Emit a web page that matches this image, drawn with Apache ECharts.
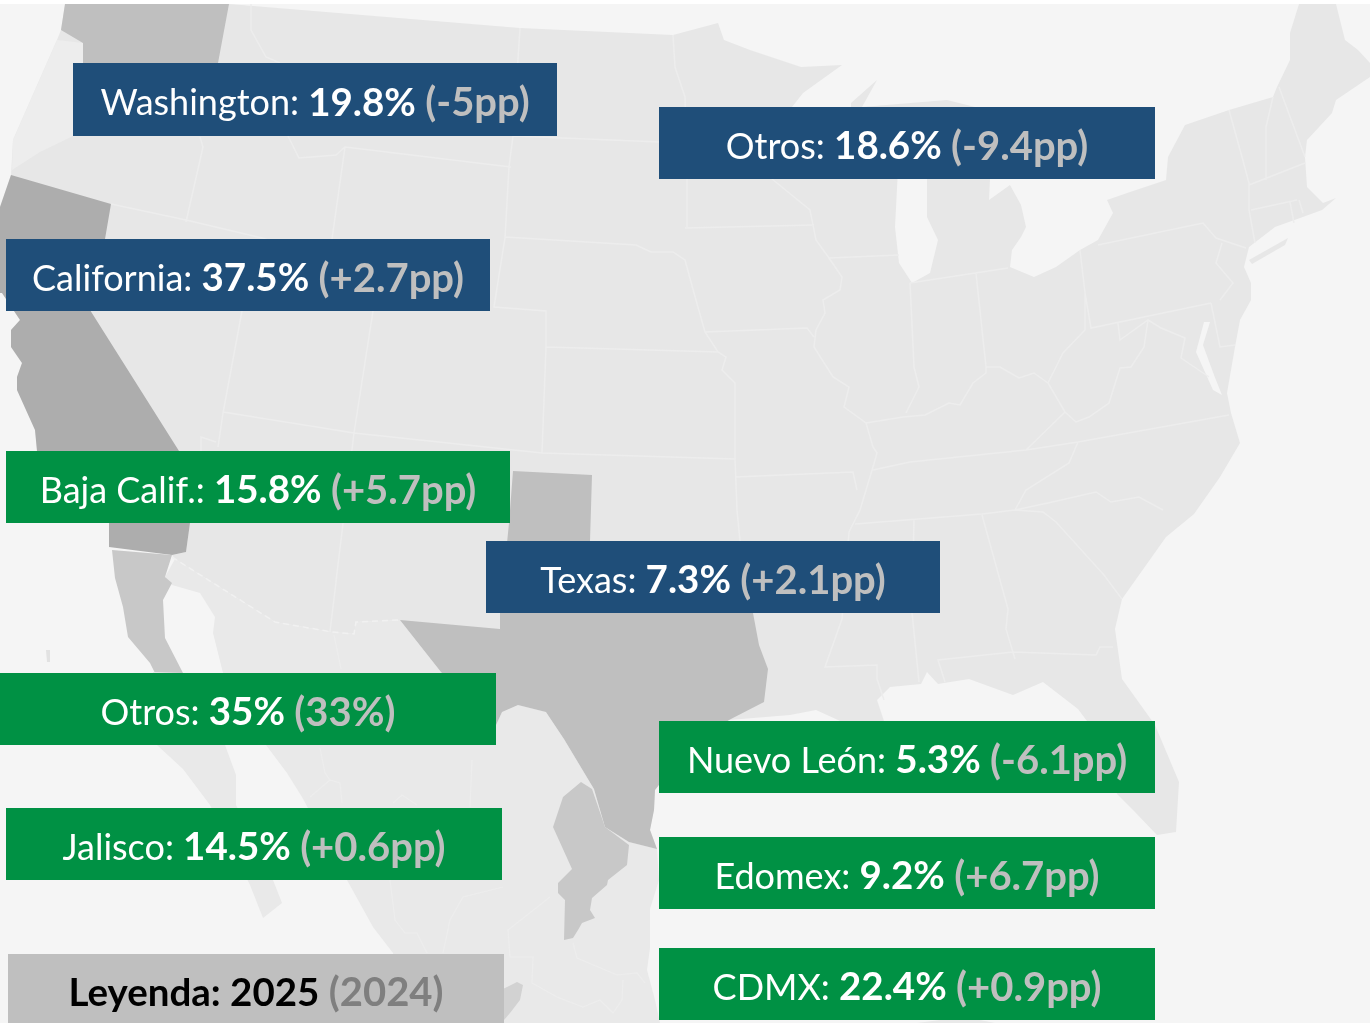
<!DOCTYPE html>
<html>
<head>
<meta charset="utf-8">
<title>Participación por estado</title>
<style>
html, body { margin: 0; padding: 0; background: #fff; }
#main { width: 1370px; height: 1023px; }
</style>
<script src="https://cdn.jsdelivr.net/npm/echarts@6/dist/echarts.min.js"></script>
</head>
<body>
<div id="main"></div>
<script>
// datos de las etiquetas
var names = ['Washington', 'Otros', 'California', 'Baja Calif.', 'Texas', 'Otros', 'Nuevo León', 'Jalisco', 'Edomex', 'CDMX']
var shares = ['19.8%', '18.6%', '37.5%', '15.8%', '7.3%', '35%', '5.3%', '14.5%', '9.2%', '22.4%']
var changes = ['(-5pp)', '(-9.4pp)', '(+2.7pp)', '(+5.7pp)', '(+2.1pp)', '(33%)', '(-6.1pp)', '(+0.6pp)', '(+6.7pp)', '(+0.9pp)']
var countries = ['us', 'us', 'us', 'mx', 'us', 'mx', 'mx', 'mx', 'mx', 'mx']
var legendText = ['Leyenda:', '2025', '(2024)']

// cajas de texto: x0, y0, x1, y1 en pixeles de la imagen
var boxes = [
    [73, 63, 557, 136], [659, 107, 1155, 179], [6, 239, 490, 311], [6, 451, 510, 523], [486, 541, 940, 613],
    [0, 673, 496, 745], [659, 721, 1155, 793], [6, 808, 502, 880], [659, 837, 1155, 909], [659, 948, 1155, 1020]
]
var legendBox = [8, 954, 504, 1023]
var boxColors = { us: '#1f4e79', mx: '#009144' }

// contornos del mapa
var usaLand = [[65,4],[229,4],[520,28],[673,35],[718,23],[724,40],[750,50],[801,67],[842,65],[803,93],[792,107],[792,120],[851,120],[851,103],[877,80],[862,107],[947,100],[975,107],[980,135],[960,150],[990,179],[989,200],[1010,185],[1021,205],[1026,227],[1021,237],[1012,250],[1010,267],[1034,277],[1056,267],[1080,250],[1098,240],[1113,213],[1107,200],[1130,192],[1166,180],[1168,157],[1185,125],[1229,110],[1273,97],[1277,87],[1290,60],[1290,33],[1299,4],[1336,4],[1345,40],[1358,50],[1370,63],[1370,77],[1336,100],[1332,113],[1307,140],[1305,157],[1307,187],[1323,203],[1336,198],[1322,210],[1300,218],[1275,227],[1249,247],[1244,267],[1251,283],[1251,300],[1240,320],[1235,347],[1227,393],[1231,413],[1240,443],[1220,477],[1194,514],[1166,537],[1122,599],[1115,629],[1122,679],[1155,725],[1179,782],[1176,832],[1157,835],[1135,812],[1117,794],[1100,750],[1087,721],[1078,709],[1043,682],[1013,695],[969,679],[938,684],[927,672],[921,684],[890,687],[877,700],[884,721],[860,730],[838,720],[816,710],[790,715],[729,720],[690,745],[655,790],[654,810],[650,830],[657,849],[629,842],[605,827],[594,789],[564,739],[546,712],[518,705],[502,712],[496,725],[441,672],[400,620],[356,622],[354,634],[332,632],[275,622],[175,559],[172,555],[186,552],[190,523],[179,451],[109,547],[109,523],[37,451],[35,430],[17,390],[17,377],[22,363],[11,347],[11,330],[20,320],[2,293],[0,293],[0,207],[11,175],[13,140],[57,40],[61,30]]
var longIsland = [[1249,260],[1288,238],[1285,245],[1252,264]]
var lakeMichigan = [[899,150],[927,150],[927,217],[938,240],[930,273],[912,283],[899,263],[895,227]]
var chesapeake = [[1204,322],[1210,322],[1203,345],[1214,375],[1222,395],[1213,390],[1196,352]]
var washington = [[65,4],[229,4],[218,63],[205,136],[73,136],[73,63],[83,63],[83,43],[61,30]]
var oregonCoast = [[57,40],[83,43],[83,63],[73,63],[73,136],[40,152],[12,170],[13,140]]
var california = [[11,175],[111,204],[105,239],[90,310],[179,451],[190,523],[186,552],[172,555],[109,547],[109,523],[37,451],[35,430],[17,390],[17,377],[22,363],[11,347],[11,330],[20,320],[2,293],[0,293],[0,207]]
var texas = [[513,471],[592,475],[590,541],[600,580],[753,613],[759,645],[768,669],[764,702],[729,720],[690,745],[655,790],[654,810],[650,830],[657,849],[629,842],[605,827],[594,789],[564,739],[546,712],[518,705],[502,712],[496,725],[441,672],[400,620],[500,629],[500,613],[509,523]]
var mexico = [[175,559],[275,622],[332,632],[354,634],[356,622],[400,620],[441,672],[496,725],[502,712],[518,705],[546,712],[564,739],[594,789],[605,827],[629,842],[657,849],[659,880],[650,909],[650,948],[647,970],[655,1000],[660,1023],[400,1023],[393,953],[373,927],[347,880],[302,797],[287,773],[266,745],[223,673],[213,633],[215,617],[200,593],[172,585],[165,577]]
var bajaNorte = [[112,550],[172,555],[165,577],[172,583],[163,600],[165,638],[183,673],[155,673],[150,663],[128,637],[123,607],[115,578]]
var bajaSur = [[153,672],[183,673],[225,745],[236,775],[236,805],[273,880],[282,903],[263,918],[250,885],[210,805],[183,769],[157,745]]
var cedros = [[46,650],[50,650],[50,662],[47,662]]
var nuevoLeon = [[581,782],[592,789],[605,827],[629,845],[627,865],[608,880],[607,885],[592,898],[590,910],[595,918],[582,923],[578,930],[573,938],[564,940],[565,900],[558,893],[558,883],[572,869],[553,827],[563,797]]
var jalisco = [[523,985],[517,982],[507,987],[480,1000],[480,1023],[504,1020],[510,1013],[520,1000]]
var yucatan = [[917,1023],[940,1020],[980,1020],[995,1023]]
var statePaths = [
    [[200,137],[203,147],[186,222]],
    [[111,204],[186,220],[262,238],[300,250]],
    [[251,4],[251,30],[266,57],[280,63]],
    [[288,136],[299,158],[336,155],[345,147],[511,167]],
    [[345,147],[332,239]],
    [[520,28],[513,136],[509,167],[505,238],[494,307],[546,311],[546,347],[542,453]],
    [[513,136],[660,142]],
    [[505,237],[636,245],[651,252],[673,252],[685,260],[694,293],[705,332],[718,352],[726,357],[722,370],[735,383],[735,458],[737,510],[740,541]],
    [[546,347],[718,352]],
    [[373,311],[354,433],[343,523],[330,632]],
    [[242,311],[223,413],[218,447]],
    [[201,451],[201,437],[216,442]],
    [[223,412],[354,433],[542,453],[735,459]],
    [[673,35],[675,67],[685,97],[687,179],[687,227]],
    [[685,228],[814,225]],
    [[772,179],[810,210],[816,240],[829,258],[842,277],[840,290],[823,300],[825,313],[816,330],[814,347],[833,377],[849,387],[844,407],[866,423],[873,447],[877,453],[873,467],[860,510],[849,532],[842,619],[825,667],[877,665],[877,679],[884,700]],
    [[829,258],[899,255]],
    [[705,332],[807,328],[814,337]],
    [[735,477],[853,472],[857,490]],
    [[910,283],[914,367],[919,387],[906,413]],
    [[976,273],[986,367]],
    [[910,283],[1008,268]],
    [[866,423],[903,417],[925,415],[949,403],[960,405],[973,383],[986,373],[986,367],[1000,367],[1019,378],[1034,373],[1048,383],[1063,353],[1085,330],[1085,293],[1080,250]],
    [[1085,293],[1091,328],[1211,303]],
    [[1098,245],[1203,223],[1216,238],[1246,248]],
    [[1222,243],[1216,263],[1233,283],[1220,300]],
    [[1118,323],[1120,340],[1148,320],[1161,328],[1185,338],[1181,358],[1209,377]],
    [[1148,320],[1144,347],[1131,367],[1120,368],[1109,403],[1089,417],[1076,422],[1065,412],[1048,383]],
    [[1065,412],[1026,450]],
    [[873,470],[910,462],[1026,450],[1078,442],[1229,415]],
    [[1078,442],[1069,463],[1026,490],[1015,510],[1043,512],[1056,522],[1104,575],[1122,599]],
    [[1229,110],[1242,157],[1249,183],[1249,210],[1255,243]],
    [[1273,97],[1266,127],[1266,180]],
    [[1279,87],[1305,157]],
    [[1249,185],[1305,163]],
    [[1251,210],[1297,200]],
    [[1290,202],[1294,223]],
    [[1299,200],[1303,213]],
    [[1211,303],[1220,347],[1235,345]],
    [[855,524],[982,514],[1015,510],[1048,503],[1096,492],[1111,502],[1139,497],[1163,510]],
    [[914,519],[912,612],[919,682]],
    [[982,515],[1008,609],[1006,629],[1015,659]],
    [[945,682],[938,660],[1013,652],[1096,655],[1100,647],[1113,647]]
]
var usMxBorder = [[[172,557],[275,622],[332,632],[354,634],[356,622],[400,620]]]
var mexicoPaths = [
    [[334,635],[341,669]],
    [[320,748],[325,773],[330,780],[340,783],[342,803]],
    [[330,780],[310,797]],
    [[393,803],[402,795],[417,805]],
    [[472,760],[470,807]],
    [[390,880],[395,920],[405,933],[417,933],[427,953]],
    [[503,887],[463,897],[450,920],[443,953]],
    [[550,897],[508,930],[510,957],[533,957],[532,983],[557,997],[583,1007],[600,1000],[613,1013]],
    [[573,943],[577,958],[617,975],[637,973],[645,983]],
    [[623,980],[622,1000],[613,1013]]
]

function polygon(name, ring) {
    return { type: 'Feature', properties: { name: name }, geometry: { type: 'Polygon', coordinates: [ring] } }
}
function lines(name, paths) {
    return { type: 'Feature', properties: { name: name }, geometry: { type: 'MultiLineString', coordinates: paths } }
}

var SEA = '#f5f5f5'
var LAND = '#e7e7e7'
var shapes = [
    ['Fondo', [[0,0],[1370,0],[1370,1023],[0,1023]], '#ffffff'],
    ['Mar', [[0,4],[1370,4],[1370,1023],[0,1023]], SEA],
    ['Mexico', mexico, '#e9e9e9'],
    ['EEUU', usaLand, LAND],
    ['Long Island', longIsland, LAND],
    ['Lago Michigan', lakeMichigan, SEA],
    ['Chesapeake', chesapeake, SEA],
    ['Costa Oregon', oregonCoast, '#ededed'],
    ['Washington', washington, '#bfbfbf'],
    ['California', california, '#adadad'],
    ['Texas', texas, '#bfbfbf'],
    ['Baja California', bajaNorte, '#c8c8c8'],
    ['Baja California Sur', bajaSur, '#e9e9e9'],
    ['Cedros', cedros, '#e2e2e2'],
    ['Nuevo Leon', nuevoLeon, '#c8c8c8'],
    ['Jalisco', jalisco, '#d2d2d2'],
    ['Yucatan', yucatan, '#e9e9e9']
]

var features = shapes.map(function (s) { return polygon(s[0], s[1]) })
features.push(lines('Estados', statePaths))
features.push(lines('Municipios', mexicoPaths))
features.push(lines('Frontera', usMxBorder))

var regions = shapes.map(function (s) {
    return { name: s[0], itemStyle: { areaColor: s[2], borderWidth: 0 } }
})
regions.push({ name: 'Estados', itemStyle: { areaColor: 'none', borderColor: '#ededed', borderWidth: 1.5 } })
regions.push({ name: 'Municipios', itemStyle: { areaColor: 'none', borderColor: '#ededed', borderWidth: 1.2 } })
regions.push({ name: 'Frontera', itemStyle: { areaColor: 'none', borderColor: '#f1f1f1', borderWidth: 1.5, borderType: [6, 4] } })

echarts.registerMap('norteamerica', { type: 'FeatureCollection', features: features })

var FONT = 'Lato'

function labelBox(box, color, text, rich, api, dy) {
    var p0 = api.coord([box[0], box[1]])
    var p1 = api.coord([box[2], box[3]])
    return {
        type: 'group',
        children: [
            {
                type: 'rect',
                shape: { x: p0[0], y: p0[1], width: p1[0] - p0[0], height: p1[1] - p0[1] },
                style: { fill: color }
            },
            {
                type: 'text',
                style: {
                    x: (p0[0] + p1[0]) / 2,
                    y: (p0[1] + p1[1]) / 2 + dy,
                    text: text,
                    align: 'center',
                    verticalAlign: 'middle',
                    rich: rich
                }
            }
        ]
    }
}

function richFor(c1, c2, c3) {
    return {
        a: { fontFamily: FONT, fontSize: 36, fill: c1 },
        b: { fontFamily: FONT, fontSize: 38.5, fontWeight: 'bold', fill: c2 },
        c: { fontFamily: FONT, fontSize: 40, fontWeight: 'bold', fill: c3 }
    }
}

var myChart = echarts.init(document.getElementById('main'), null, { renderer: 'canvas' })
myChart.setOption({
    animation: false,
    backgroundColor: '#ffffff',
    geo: {
        map: 'norteamerica',
        left: 0,
        top: 0,
        width: 1370,
        height: 1023,
        aspectScale: 1,
        silent: true,
        roam: false,
        projection: {
            project: function (p) { return p },
            unproject: function (p) { return p }
        },
        label: { show: false },
        itemStyle: { areaColor: LAND, borderWidth: 0 },
        regions: regions
    },
    series: [
        {
            type: 'custom',
            coordinateSystem: 'geo',
            silent: true,
            data: names.map(function (n, i) { return { name: n, value: [boxes[i][0], boxes[i][1]] } }),
            renderItem: function (params, api) {
                var i = params.dataIndex
                var text = '{a|' + names[i] + ': }{b|' + shares[i] + ' }{c|' + changes[i] + '}'
                return labelBox(boxes[i], boxColors[countries[i]], text, richFor('#ffffff', '#ffffff', '#bfbfbf'), api, 4)
            }
        },
        {
            type: 'custom',
            coordinateSystem: 'geo',
            silent: true,
            data: [{ name: 'Leyenda', value: [legendBox[0], legendBox[1]] }],
            renderItem: function (params, api) {
                var text = '{b|' + legendText[0] + ' ' + legendText[1] + ' }{c|' + legendText[2] + '}'
                return labelBox(legendBox, '#bfbfbf', text, richFor('#000000', '#000000', '#7f7f7f'), api, 5)
            }
        }
    ]
})
</script>
</body>
</html>
